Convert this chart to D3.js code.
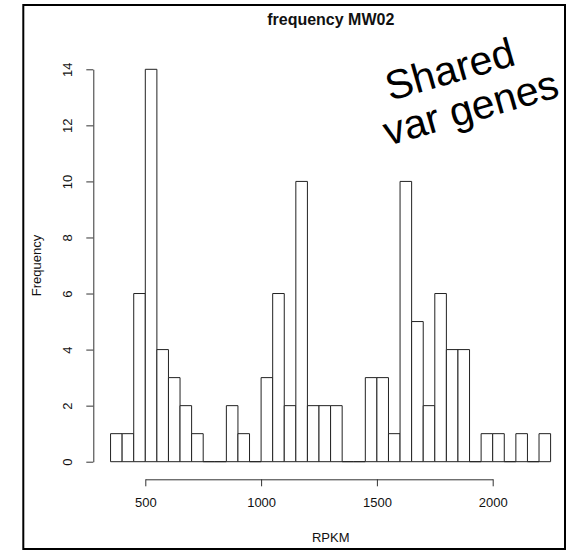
<!DOCTYPE html>
<html>
<head>
<meta charset="utf-8">
<script src="https://cdn.jsdelivr.net/npm/d3@7"></script>
<style>
  body { margin: 0; background: #fff; }
  svg text { font-family: "Liberation Sans", Arial, sans-serif; }
</style>
</head>
<body>
<div id="chart"></div>
<script>
const w = 577, h = 551;

// histogram of RPKM, bin edges and counts per bin
const binEdges = [350, 400, 450, 500, 550, 600, 650, 700, 750, 800, 850, 900, 950, 1000,
  1050, 1100, 1150, 1200, 1250, 1300, 1350, 1400, 1450, 1500, 1550, 1600, 1650, 1700,
  1750, 1800, 1850, 1900, 1950, 2000, 2050, 2100, 2150, 2200, 2250];
const counts = [1, 1, 6, 14, 4, 3, 2, 1, 0, 0, 2, 1, 0, 3, 6, 2, 10, 2, 2, 2,
  0, 0, 3, 3, 1, 10, 5, 2, 6, 4, 4, 0, 1, 1, 0, 1, 0, 1];

const xTicks = [500, 1000, 1500, 2000];
const yTicks = [0, 2, 4, 6, 8, 10, 12, 14];

const title = "frequency MW02";
const xLabel = "RPKM";
const yLabel = "Frequency";
const note = ["Shared", "var genes"];

// plot region (R style, 4% padding around the data range)
const plot = { l: 93.3, r: 568.2, t: 53.6, b: 477.4 };

const svg = d3.select("#chart").append("svg")
  .attr("width", w)
  .attr("height", h);

const x = d3.scaleLinear().domain([500, 2000]).range([145.3, 492.7]);
const y = d3.scaleLinear().domain([0, 14]).range([461.7, 69.3]);

// outer frame
svg.append("rect")
  .attr("x", 23.3)
  .attr("y", 5)
  .attr("width", 541.7)
  .attr("height", 544)
  .attr("fill", "none")
  .attr("stroke", "#000")
  .attr("stroke-width", 2);

// bars, drawn as paths so empty bins still leave a line on the baseline
const bins = counts.map((c, i) => ({ x0: binEdges[i], x1: binEdges[i + 1], n: c }));
svg.append("g")
  .selectAll("path")
  .data(bins)
  .join("path")
  .attr("d", d => `M${x(d.x0)},${y(0)}V${y(d.n)}H${x(d.x1)}V${y(0)}Z`)
  .attr("fill", "#fff")
  .attr("stroke", "#222")
  .attr("stroke-width", 1);

// x axis
const xAxis = svg.append("g")
  .attr("transform", `translate(0,479.3)`)
  .call(d3.axisBottom(x).tickValues(xTicks).tickFormat(d3.format("d"))
    .tickSize(7).tickPadding(11).tickSizeOuter(0))
  .call(g => g.select(".domain").attr("stroke", "#333"));
xAxis.selectAll("line").attr("stroke", "#333");
xAxis.selectAll("text")
  .attr("font-size", 13)
  .attr("font-family", "Liberation Sans, Arial, sans-serif")
  .attr("fill", "#111");

// y axis, R puts its labels rotated
const yAxis = svg.append("g")
  .attr("transform", `translate(${plot.l},0)`)
  .call(d3.axisLeft(y).tickValues(yTicks).tickSize(7).tickSizeOuter(0))
  .call(g => g.select(".domain").attr("stroke", "#333"));
yAxis.selectAll("line").attr("stroke", "#333");
yAxis.selectAll("text").remove();
yAxis.selectAll(".tick")
  .append("text")
  .text(d => d)
  .attr("transform", "translate(-21,0) rotate(-90)")
  .attr("text-anchor", "middle")
  .attr("font-size", 13)
  .attr("font-family", "Liberation Sans, Arial, sans-serif")
  .attr("fill", "#111");

// titles
svg.append("text")
  .text(title)
  .attr("x", (plot.l + plot.r) / 2)
  .attr("y", 25)
  .attr("text-anchor", "middle")
  .attr("font-size", 16)
  .attr("font-weight", "bold")
  .attr("fill", "#111");

svg.append("text")
  .text(xLabel)
  .attr("x", (plot.l + plot.r) / 2)
  .attr("y", 542)
  .attr("text-anchor", "middle")
  .attr("font-size", 13)
  .attr("fill", "#111");

svg.append("text")
  .text(yLabel)
  .attr("transform", `translate(41,${(plot.t + plot.b) / 2}) rotate(-90)`)
  .attr("text-anchor", "middle")
  .attr("font-size", 13)
  .attr("fill", "#111");

// annotation written over the plot, one line per entry
const noteAt = [[390, 101], [388, 146]];
svg.selectAll(".note")
  .data(note)
  .join("text")
  .attr("class", "note")
  .text(d => d)
  .attr("transform", (d, i) => `translate(${noteAt[i][0]},${noteAt[i][1]}) rotate(-16)`)
  .attr("text-anchor", "start")
  .attr("font-size", 41)
  .attr("fill", "#000");
</script>
</body>
</html>
